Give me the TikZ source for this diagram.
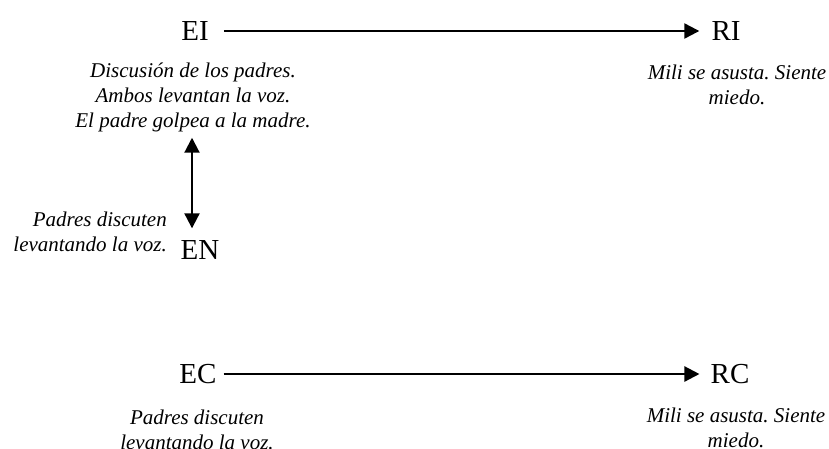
\documentclass[tikz,border=0pt]{standalone}
\usepackage{fontspec}
\setmainfont{Liberation Serif}
\usetikzlibrary{arrows.meta}
\frenchspacing
\begin{document}
\begin{tikzpicture}[x=1pt,y=-1pt,
  big/.style={inner sep=0pt,font=\fontsize{29}{34}\selectfont},
  desc/.style={inner sep=0pt,align=center,font=\fontsize{21}{25}\selectfont\itshape\frenchspacing},
  conn/.style={line width=2.3pt,-{Triangle[length=15pt,width=15pt]}},
  dconn/.style={line width=2.1pt,{Triangle[length=15pt,width=15pt]}-{Triangle[length=15pt,width=15pt]}}]
\useasboundingbox (0,0) rectangle (829,448);
\node[big] (EI) at (195,31) {EI};
\node[big] (RI) at (726,31) {RI};
\node[big] (EN) at (200,250) {EN};
\node[big] (EC) at (198,374) {EC};
\node[big] (RC) at (730,374) {RC};
\node[desc] (eit) at (193,97) {Discusión de los padres.\\Ambos levantan la voz.\\El padre golpea a la madre.};
\node[desc] (rit) at (737,84.5) {Mili se asusta. Siente\\miedo.};
\node[desc,align=right,anchor=east] (ent) at (167,232) {Padres discuten\\levantando la voz.};
\node[desc] (ect) at (197,429.5) {Padres discuten\\levantando la voz.};
\node[desc] (rct) at (736,428) {Mili se asusta. Siente\\miedo.};
\coordinate (dtop) at ([xshift=-1pt]eit.south);
\draw[conn,shorten <=15pt,shorten >=12pt] (EI) -- (RI);
\draw[conn,shorten <=7pt,shorten >=11pt] (EC) -- (RC);
\draw[dconn] ([yshift=-6pt]dtop) -- ([yshift=12pt]dtop |- EN.north);
\end{tikzpicture}
\end{document}
